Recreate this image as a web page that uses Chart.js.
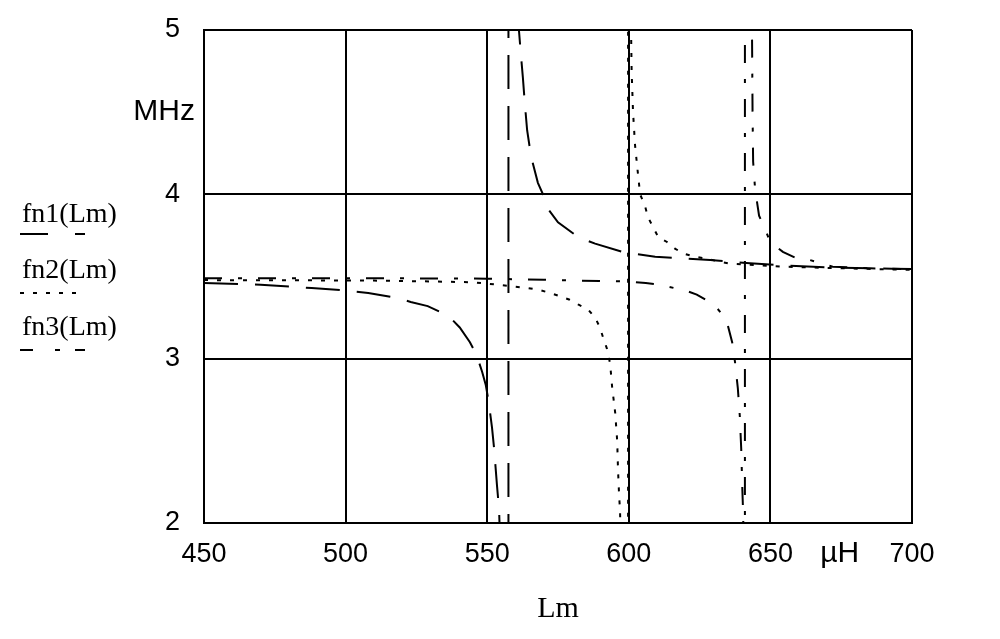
<!DOCTYPE html>
<html>
<head>
<meta charset="utf-8">
<script src="https://cdn.jsdelivr.net/npm/chart.js@4.4.1/dist/chart.umd.min.js"></script>
<style>
  html, body { margin: 0; padding: 0; background: #ffffff; }
  #wrap { width: 1000px; height: 639px; position: relative; }
  canvas { display: block; }
</style>
</head>
<body>
<div id="wrap"><canvas id="c" width="1000" height="639"></canvas></div>
<script>
// ---- tick labels ----
const xTicks = [450, 500, 550, 600, 650, 700];
const yTicks = [2, 3, 4, 5];

// ---- series names ----
const seriesNames = ['fn1(Lm)', 'fn2(Lm)', 'fn3(Lm)'];

// ---- fn1 (Lm in µH, frequency in MHz) ----
const fn1Lm = [450, 470, 488, 500, 508, 518, 523, 529, 534, 537.5, 540.3, 543.9, 546.3, 548.2, 549.5, 550.5,
  551.7, 552.4, 553.5, 554.2, 555.2, 556.5, 557.3, 557.45, 557.55, 558, 559, 560, 561.2, 561.9, 562.6, 563.3,
  564.1, 565.5, 567.9, 569.7, 571.1, 575, 582.1, 588.1, 597.7, 609.3, 620, 628.7, 642.8, 656.9, 671, 685.2, 700];
const fn1MHz = [3.46, 3.45, 3.43, 3.415, 3.40, 3.37, 3.345, 3.32, 3.28, 3.24, 3.19, 3.10, 3.02, 2.92, 2.84, 2.74,
  2.58, 2.46, 2.22, 2.08, 1.5, -1.5, -20, -100, 100, 15, 7.5, 5.9, 5.0, 4.85, 4.71, 4.55,
  4.39, 4.23, 4.07, 4.0, 3.92, 3.83, 3.74, 3.70, 3.65, 3.62, 3.61, 3.60, 3.58, 3.565, 3.555, 3.55, 3.545];

// ---- fn2 ----
const fn2Lm = [450, 480, 510, 530, 545, 553.8, 559, 564, 568, 572.2, 575.7, 578.9, 582.1, 585.6, 588.1, 589.8,
  590.9, 592.3, 593.4, 594.1, 595.2, 595.9, 596.2, 596.6, 596.9, 597.5, 598.6, 599.4, 599.7, 599.8, 600.3,
  600.8, 601.0, 601.5, 602.2, 603.2, 604, 605.7, 606.8, 608.6, 610.4, 613.5, 616.3, 619.2, 623.4, 626.9,
  632.2, 635, 654, 675, 700];
const fn2MHz = [3.478, 3.477, 3.475, 3.47, 3.465, 3.45, 3.44, 3.43, 3.42, 3.40, 3.38, 3.36, 3.33, 3.30, 3.25, 3.19,
  3.13, 3.06, 2.97, 2.83, 2.67, 2.50, 2.32, 2.16, 2.08, 1.6, 0.2, -8, -100, 100, 8,
  5.0, 4.75, 4.5, 4.3, 4.13, 4.0, 3.93, 3.86, 3.80, 3.74, 3.71, 3.67, 3.64, 3.62, 3.61,
  3.59, 3.58, 3.56, 3.55, 3.54];

// ---- fn3 ----
const fn3Lm = [450, 500, 550, 570, 583, 598, 606, 611, 616, 620, 624, 627, 630, 633, 635, 636.5, 637.5, 638.5,
  639.2, 639.7, 640.1, 640.4, 640.7, 640.95, 641.05, 642, 643, 643.5, 643.7, 643.9, 644.6, 646, 648.8,
  649.9, 654.4, 659.4, 664, 672, 685, 700];
const fn3MHz = [3.49, 3.49, 3.487, 3.48, 3.475, 3.47, 3.46, 3.45, 3.43, 3.415, 3.39, 3.36, 3.33, 3.27, 3.20, 3.10, 2.98, 2.82,
  2.65, 2.45, 2.2, 2.05, 1.4, -100, 100, 12, 6.5, 5.0, 4.5, 4.2, 4.03, 3.87, 3.76,
  3.71, 3.65, 3.61, 3.60, 3.56, 3.55, 3.545];

const dashes = [[34, 17], [4, 9], [18, 16, 4, 16]];

function pts(xs, ys) { return xs.map((x, i) => ({ x: x, y: ys[i] })); }

const extraText = {
  id: 'extraText',
  afterDraw(chart) {
    const ctx = chart.ctx;
    const xs = chart.scales.x, ys = chart.scales.y;
    const area = chart.chartArea;
    ctx.save();
    ctx.fillStyle = '#000';
    // y unit
    ctx.font = '30px "Liberation Sans", Arial, sans-serif';
    ctx.textAlign = 'right';
    ctx.textBaseline = 'middle';
    ctx.fillText('MHz', area.left - 9, ys.getPixelForValue(4.5));
    // x unit
    ctx.textAlign = 'center';
    ctx.fillText('\u00B5H', xs.getPixelForValue(674.5), area.bottom + 31);
    // legend
    ctx.font = '28px "Liberation Serif", "Times New Roman", serif';
    ctx.textAlign = 'left';
    ctx.textBaseline = 'alphabetic';
    const legendY = [222, 278, 335];
    const sampleY = [234, 293, 350];
    ctx.strokeStyle = '#000';
    ctx.lineWidth = 2;
    for (let i = 0; i < 3; i++) {
      ctx.fillText(seriesNames[i], 22, legendY[i]);
      ctx.beginPath();
      if (i === 0) ctx.setLineDash([28, 27]);
      if (i === 1) ctx.setLineDash([4, 9]);
      if (i === 2) ctx.setLineDash([13, 22, 5, 15]);
      ctx.moveTo(20, sampleY[i]);
      ctx.lineTo(85, sampleY[i]);
      ctx.stroke();
    }
    ctx.restore();
  }
};

const tickFont = { family: '"Liberation Sans", Arial, sans-serif', size: 27 };

new Chart(document.getElementById('c'), {
  type: 'line',
  data: {
    datasets: [
      { label: seriesNames[0], data: pts(fn1Lm, fn1MHz), borderDash: dashes[0] },
      { label: seriesNames[1], data: pts(fn2Lm, fn2MHz), borderDash: dashes[1] },
      { label: seriesNames[2], data: pts(fn3Lm, fn3MHz), borderDash: dashes[2] }
    ].map(d => Object.assign(d, {
      borderColor: '#000', borderWidth: 2, pointRadius: 0, tension: 0, fill: false
    }))
  },
  options: {
    responsive: false,
    animation: false,
    devicePixelRatio: 1,
    layout: { padding: { left: 0, right: 88, top: 30, bottom: 0 } },
    plugins: { legend: { display: false }, tooltip: { enabled: false } },
    scales: {
      x: {
        type: 'linear', min: 450, max: 700,
        afterBuildTicks: s => { s.ticks = xTicks.map(v => ({ value: v })); },
        afterFit: s => { s.height = 116; s.paddingLeft = 0; s.paddingRight = 0; },
        grid: { color: '#000', lineWidth: 2, drawTicks: false },
        border: { display: true, color: '#000', width: 2 },
        ticks: { color: '#000', font: tickFont, padding: 15, maxRotation: 0, autoSkip: false },
        title: { display: true, text: 'Lm', color: '#000',
                 font: { family: '"Liberation Serif", "Times New Roman", serif', size: 30 },
                 padding: { top: 0, bottom: 12 } }
      },
      y: {
        type: 'linear', min: 2, max: 5,
        afterBuildTicks: s => { s.ticks = yTicks.map(v => ({ value: v })); },
        afterFit: s => { s.width = 204; s.paddingTop = 0; s.paddingBottom = 0; },
        grid: { color: '#000', lineWidth: 2, drawTicks: false },
        border: { display: true, color: '#000', width: 2 },
        ticks: { color: '#000', font: tickFont, padding: 24 }
      }
    }
  },
  plugins: [extraText]
});
</script>
</body>
</html>
